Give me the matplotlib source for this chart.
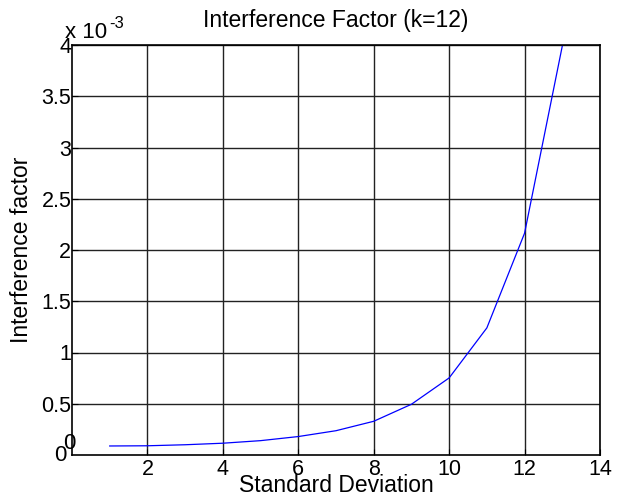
import matplotlib
matplotlib.use("Agg")
import matplotlib.pyplot as plt

sd = [1, 2, 3, 4, 5, 6, 7, 8, 9, 10, 11, 12, 13]
factor_e3 = [0.088, 0.090, 0.100, 0.115, 0.140, 0.180, 0.237, 0.329, 0.495, 0.752, 1.240, 2.164, 3.99]
xticks = [2, 4, 6, 8, 10, 12, 14]
yticks = [0.5, 1, 1.5, 2, 2.5, 3, 3.5, 4]
ytick_labels = ["0.5", "1", "1.5", "2", "2.5", "3", "3.5", "4"]

plt.rcParams['font.family'] = ['Liberation Sans', 'DejaVu Sans']

fig = plt.figure(figsize=(6.26, 5.01), dpi=100)
ax = fig.add_axes([72/626, 1 - 455/501, 528/626, 410/501])

ax.plot(sd, [v * 1e-3 for v in factor_e3], color='#0000ff', lw=0.9)
ax.set_xlim(0, 14)
ax.set_ylim(0, 4e-3)
ax.set_xticks(xticks)
ax.set_xticklabels([str(t) for t in xticks], fontsize=15.5)
ax.set_yticks([t * 1e-3 for t in yticks])
ax.set_yticklabels(ytick_labels, fontsize=15.5)
ax.tick_params(direction='in', length=4, width=0.8)
ax.tick_params(axis='x', pad=3)
ax.tick_params(axis='y', pad=0.5)
ax.grid(True, color='#222222', lw=1.0, ls='-')
for s in ax.spines.values():
    s.set_linewidth(1.2)
    s.set_color('black')

# stray zero labels as in the reference
ax.text(-0.0057, 0.029, "0", transform=ax.transAxes, ha='center', va='center', fontsize=16)
ax.text(-0.0095, -0.001, "0", transform=ax.transAxes, ha='right', va='center', fontsize=16)
# exponent
ax.text(-0.013, 1.017, "x 10", transform=ax.transAxes,
        ha='left', va='baseline', fontsize=16)
ax.text(0.070, 1.0415, "-3", transform=ax.transAxes,
        ha='left', va='baseline', fontsize=12)

ax.set_title("Interference Factor (k=12)", fontsize=16.5, pad=13)
ax.set_xlabel("Standard Deviation", fontsize=16.5)
ax.xaxis.set_label_coords(0.5, -0.09)
ax.xaxis.label.set_va('baseline')
ax.set_ylabel("Interference factor", fontsize=16.5)
ax.yaxis.set_label_coords(-0.0947, 0.5)
ax.yaxis.label.set_va('center')

fig.savefig("out.png", dpi=100)
